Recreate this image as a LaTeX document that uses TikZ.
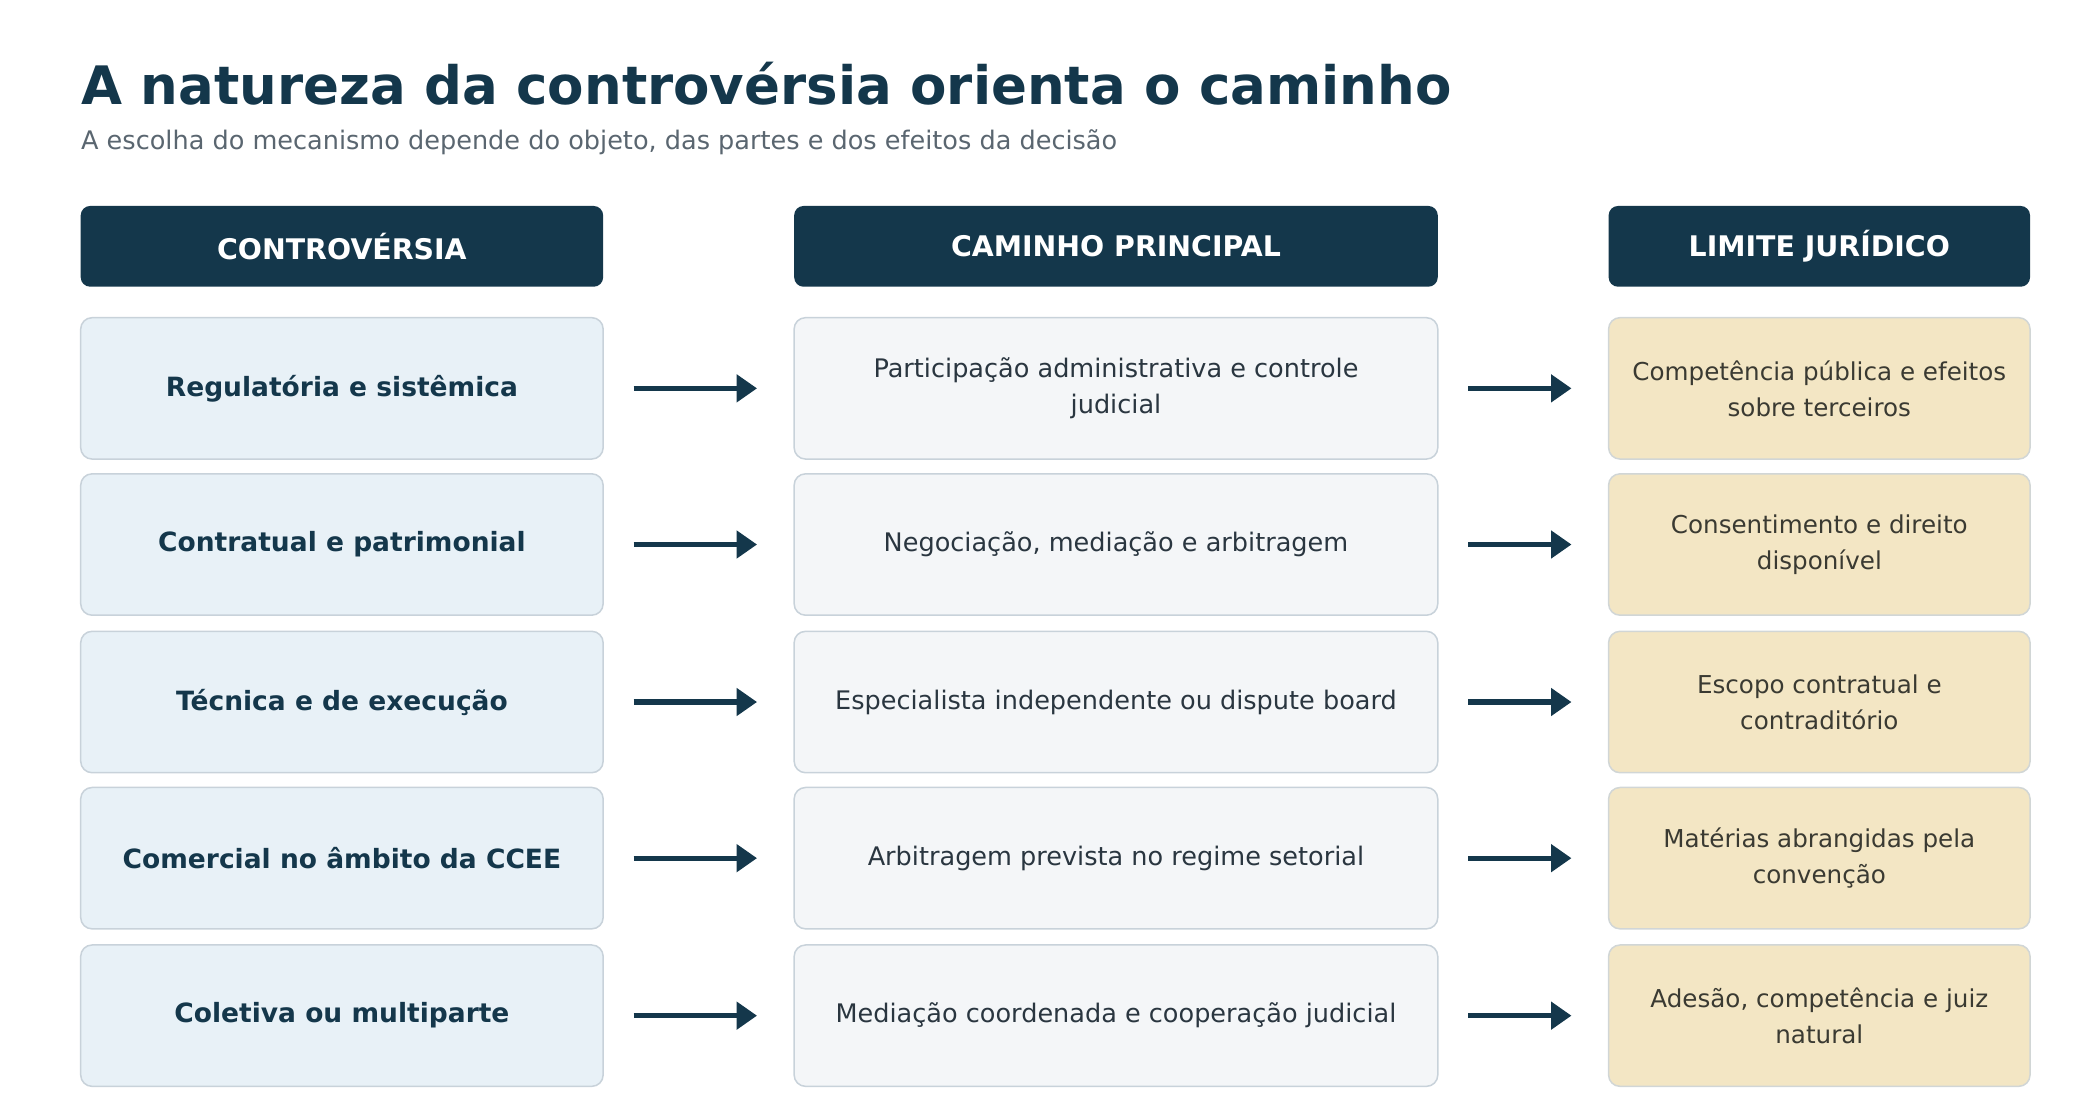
\documentclass[tikz,border=0pt]{standalone}
\usepackage{fontspec}
\setmainfont{DejaVu Sans}
\usetikzlibrary{arrows.meta,positioning}
\definecolor{cnavy}{HTML}{14374B}
\definecolor{csub}{HTML}{5A6670}
\definecolor{cline}{HTML}{C8D2DA}
\definecolor{cblue}{HTML}{E8F1F7}
\definecolor{cgray}{HTML}{F4F6F8}
\definecolor{csand}{HTML}{F3E6C4}
\definecolor{ctext}{HTML}{2A3640}
\definecolor{csandtext}{HTML}{3A3A32}

\begin{document}
\begin{tikzpicture}[x=0.025cm, y=-0.025cm,
  head/.style={fill=cnavy, rounded corners=5pt, minimum height=1.5cm, text=white, font=\fontsize{15}{18}\selectfont\bfseries},
  box/.style={draw=cline, line width=0.8pt, rounded corners=6pt, minimum height=2.625cm, align=center, font=\fontsize{13.5}{19}\selectfont},
  arr/.style={-{Triangle[length=0.38cm, width=0.5cm]}, line width=2.8pt, draw=cnavy, shorten <=0.55cm, shorten >=0.675cm},
]
  \useasboundingbox (0,0) rectangle (1560,832);

  % title
  \node[anchor=base west, inner sep=0, text=cnavy, font=\fontsize{28}{32}\selectfont\bfseries] (title) at (60,78) {A natureza da controvérsia orienta o caminho};
  \node[anchor=base west, inner sep=0, text=csub, font=\fontsize{13.5}{16}\selectfont] (sub) at (60,111) {A escolha do mecanismo depende do objeto, das partes e dos efeitos da decisão};

  % headers
  \node[head, minimum width=9.7cm] (h1) at (254,183) {CONTROVÉRSIA};
  \node[head, minimum width=11.95cm] (h2) at (829,183) {CAMINHO PRINCIPAL};
  \node[head, minimum width=7.825cm] (h3) at (1351.5,183) {LIMITE JURÍDICO};

  % rows
  \foreach \y/\a/\b/\c [count=\i] in {
    288.5/{Regulatória e sistêmica}/{Participação administrativa e controle\\judicial}/{Competência pública e efeitos\\sobre terceiros},
    404.5/{Contratual e patrimonial}/{Negociação, mediação e arbitragem}/{Consentimento e direito\\disponível},
    521.5/{Técnica e de execução}/{Especialista independente ou dispute board}/{Escopo contratual e\\contraditório},
    637.5/{Comercial no âmbito da CCEE}/{Arbitragem prevista no regime setorial}/{Matérias abrangidas pela\\convenção},
    754.5/{Coletiva ou multiparte}/{Mediação coordenada e cooperação judicial}/{Adesão, competência e juiz\\natural}} {
    \node[box, fill=cblue, minimum width=9.7cm, text=cnavy, font=\fontsize{14}{19}\selectfont\bfseries] (a\i) at (254,\y) {\a};
    \node[box, fill=cgray, minimum width=11.95cm, text=ctext] (b\i) at (829,\y) {\b};
    \node[box, fill=csand, draw=cline!80!csand, minimum width=7.825cm, text=csandtext, font=\fontsize{13}{19}\selectfont] (c\i) at (1351.5,\y) {\c};
    \draw[arr] (a\i) -- (b\i);
    \draw[arr] (b\i) -- (c\i);
  }
\end{tikzpicture}
\end{document}
